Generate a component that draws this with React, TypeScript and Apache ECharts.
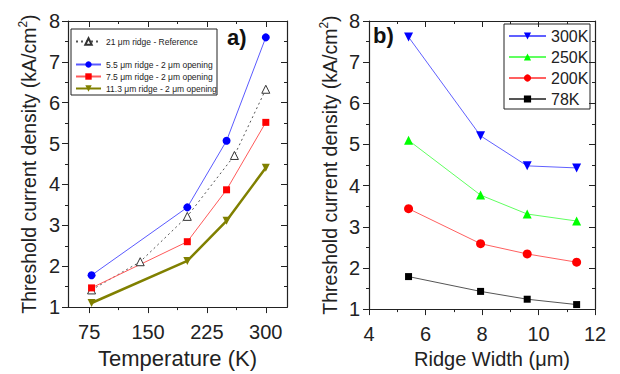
import React, { useEffect, useRef } from "react";
import * as echarts from "echarts";

// ---- Panel a) : threshold current density vs temperature ----
const refTemps = [78, 140, 200, 260, 300];
const refValues = [1.42, 2.11, 3.22, 4.71, 6.33];
const temps = [78, 200, 250, 300];
const ridge55 = [1.78, 3.44, 5.07, 7.6];
const ridge75 = [1.47, 2.6, 3.87, 5.52];
const ridge113 = [1.1, 2.13, 3.11, 4.41];
const tempMajorTicks = [75, 150, 225, 300];
const tempMinorTicks = [112.5, 187.5, 262.5];

// ---- Panel b) : threshold current density vs ridge width ----
const widths = [5.4, 7.95, 9.6, 11.35];
const j300 = [7.61, 5.21, 4.48, 4.43];
const j250 = [5.1, 3.77, 3.31, 3.14];
const j200 = [3.44, 2.59, 2.34, 2.14];
const j78 = [1.79, 1.43, 1.24, 1.11];

const leftNames = [
  "21 μm ridge - Reference",
  "5.5 μm ridge - 2 μm opening",
  "7.5 μm ridge - 2 μm opening",
  "11.3 μm ridge - 2 μm opening",
];
const rightNames = ["300K", "250K", "200K", "78K"];

const FONT = "Liberation Sans, Arial, sans-serif";
const AX = "#222";

const zip = (xs: number[], ys: number[]) => xs.map((x, i) => [x, ys[i]]);

const yName = "Threshold current density (kA/cm{sup|2})";

export default function App() {
  const ref = useRef<HTMLDivElement>(null);
  useEffect(() => {
    document.body.style.margin = "0";
    const chart = echarts.init(ref.current!, null, { renderer: "svg" });

    const tempBase = {
      type: "value",
      gridIndex: 0,
      min: 48,
      max: 327,
      splitLine: { show: false },
      axisLine: { show: true, lineStyle: { color: AX, width: 1.2 } },
    };
    const yBase = (grid: number, pos: string, labels: boolean, margin: number) => ({
      type: "value",
      gridIndex: grid,
      position: pos,
      min: 1,
      max: 8,
      interval: 1,
      splitLine: { show: false },
      axisLine: { show: true, lineStyle: { color: AX, width: 1.2 } },
      axisTick: { show: true, inside: !labels, length: 6, lineStyle: { color: AX } },
      minorTick: { show: true, splitNumber: 2, length: 3, lineStyle: { color: AX } },
      axisLabel: { show: labels, fontSize: 20, color: AX, margin, fontFamily: FONT },
      name: labels ? yName : "",
      nameLocation: "middle",
      nameGap: 28,
      nameTextStyle: {
        fontSize: 19.5,
        color: AX,
        fontFamily: FONT,
        lineHeight: 23,
        rich: { sup: { fontSize: 12, verticalAlign: "top", lineHeight: 23, fontFamily: FONT, color: AX } },
      },
    });

    const option: any = {
      animation: false,
      textStyle: { fontFamily: FONT },
      grid: [
        { left: 68, right: 333, top: 21, bottom: 64 },
        { left: 369, right: 25, top: 21, bottom: 64 },
      ],
      xAxis: [
        {
          ...tempBase,
          position: "bottom",
          axisTick: { show: true, customValues: tempMajorTicks, length: 6, lineStyle: { color: AX } },
          axisLabel: { show: true, customValues: tempMajorTicks, fontSize: 20, color: AX, margin: 15 },
          name: "Temperature (K)",
          nameLocation: "middle",
          nameGap: 36,
          nameTextStyle: { fontSize: 22, color: AX, fontFamily: FONT },
        },
        {
          ...tempBase,
          position: "bottom",
          axisTick: { show: true, customValues: tempMinorTicks, length: 3, lineStyle: { color: AX } },
          axisLabel: { show: false },
        },
        {
          ...tempBase,
          position: "top",
          axisTick: { show: true, inside: true, customValues: tempMajorTicks, length: 6, lineStyle: { color: AX } },
          axisLabel: { show: false },
        },
        {
          ...tempBase,
          position: "top",
          axisTick: { show: true, inside: true, customValues: tempMinorTicks, length: 3, lineStyle: { color: AX } },
          axisLabel: { show: false },
        },
        {
          type: "value",
          gridIndex: 1,
          position: "bottom",
          min: 4,
          max: 12,
          interval: 2,
          splitLine: { show: false },
          axisLine: { show: true, lineStyle: { color: AX, width: 1.2 } },
          axisTick: { show: true, length: 6, lineStyle: { color: AX } },
          minorTick: { show: true, splitNumber: 2, length: 3, lineStyle: { color: AX } },
          axisLabel: { show: true, fontSize: 20, color: AX, margin: 15 },
          name: "Ridge Width (μm)",
          nameLocation: "middle",
          nameGap: 37,
          nameTextStyle: { fontSize: 20, color: AX, fontFamily: FONT, padding: [0, 0, 0, 20] },
        },
        {
          type: "value",
          gridIndex: 1,
          position: "top",
          min: 4,
          max: 12,
          interval: 2,
          splitLine: { show: false },
          axisLine: { show: true, lineStyle: { color: AX, width: 1.2 } },
          axisTick: { show: true, inside: true, length: 6, lineStyle: { color: AX } },
          minorTick: { show: true, splitNumber: 2, length: 3, lineStyle: { color: AX } },
          axisLabel: { show: false },
        },
      ],
      yAxis: [yBase(0, "left", true, 8), yBase(0, "right", false, 8), yBase(1, "left", true, 9), yBase(1, "right", false, 8)],
      legend: [
        {
          data: [leftNames[0]],
          orient: "vertical",
          left: 75,
          top: 37,
          padding: 0,
          itemWidth: 25,
          itemHeight: 8,
          itemGap: 3,
          textStyle: { fontSize: 8.5, color: AX, fontFamily: FONT },
        },
        {
          data: leftNames.slice(1),
          orient: "vertical",
          left: 75,
          top: 60,
          padding: 0,
          itemWidth: 25,
          itemHeight: 8,
          itemGap: 3,
          textStyle: { fontSize: 8.5, color: AX, fontFamily: FONT },
        },
        {
          data: rightNames,
          orient: "vertical",
          left: 508,
          top: 28,
          padding: 0,
          itemWidth: 37,
          itemHeight: 9,
          itemGap: 5,
          textStyle: { fontSize: 16, color: AX, fontFamily: FONT },
        },
      ],
      graphic: [
        { type: "rect", shape: { x: 71, y: 29, width: 146, height: 66 }, style: { fill: "none", stroke: AX, lineWidth: 1 }, z: 10 },
        { type: "rect", shape: { x: 504, y: 24, width: 86, height: 85 }, style: { fill: "none", stroke: AX, lineWidth: 1 }, z: 10 },
        { type: "text", left: 227, top: 26, style: { text: "a)", fontSize: 22, fontWeight: "bold", fill: "#111", fontFamily: FONT } },
        { type: "text", left: 373, top: 24, style: { text: "b)", fontSize: 22, fontWeight: "bold", fill: "#111", fontFamily: FONT } },
      ],
      series: [
        {
          name: leftNames[0],
          type: "line",
          xAxisIndex: 0,
          yAxisIndex: 0,
          data: zip(refTemps, refValues),
          symbol: "triangle",
          symbolSize: 8,
          lineStyle: { color: "#555", width: 1, type: [2, 3] },
          itemStyle: { color: "#fff", borderColor: "#333", borderWidth: 1 },
          z: 3,
        },
        {
          name: leftNames[1],
          type: "line",
          xAxisIndex: 0,
          yAxisIndex: 0,
          data: zip(temps, ridge55),
          symbol: "circle",
          symbolSize: 8,
          lineStyle: { color: "#5a5aff", width: 1 },
          itemStyle: { color: "#0000ff" },
        },
        {
          name: leftNames[2],
          type: "line",
          xAxisIndex: 0,
          yAxisIndex: 0,
          data: zip(temps, ridge75),
          symbol: "rect",
          symbolSize: 7,
          lineStyle: { color: "#ff5a5a", width: 1 },
          itemStyle: { color: "#ff0000" },
        },
        {
          name: leftNames[3],
          type: "line",
          xAxisIndex: 0,
          yAxisIndex: 0,
          data: zip(temps, ridge113),
          symbol: "triangle",
          symbolRotate: 180,
          symbolSize: 8,
          lineStyle: { color: "#808000", width: 2.5 },
          itemStyle: { color: "#808000" },
        },
        {
          name: rightNames[0],
          type: "line",
          xAxisIndex: 4,
          yAxisIndex: 2,
          data: zip(widths, j300),
          symbol: "triangle",
          symbolRotate: 180,
          symbolSize: 9,
          lineStyle: { color: "#6060ff", width: 1 },
          itemStyle: { color: "#0000ff" },
        },
        {
          name: rightNames[1],
          type: "line",
          xAxisIndex: 4,
          yAxisIndex: 2,
          data: zip(widths, j250),
          symbol: "triangle",
          symbolSize: 9,
          lineStyle: { color: "#60ff60", width: 1 },
          itemStyle: { color: "#00ff00" },
        },
        {
          name: rightNames[2],
          type: "line",
          xAxisIndex: 4,
          yAxisIndex: 2,
          data: zip(widths, j200),
          symbol: "circle",
          symbolSize: 9,
          lineStyle: { color: "#ff6060", width: 1 },
          itemStyle: { color: "#ff0000" },
        },
        {
          name: rightNames[3],
          type: "line",
          xAxisIndex: 4,
          yAxisIndex: 2,
          data: zip(widths, j78),
          symbol: "rect",
          symbolSize: 7,
          lineStyle: { color: "#555", width: 1 },
          itemStyle: { color: "#000" },
        },
      ],
    };
    chart.setOption(option);
    return () => chart.dispose();
  }, []);
  return <div ref={ref} style={{ position: "absolute", left: 0, top: 0, width: 620, height: 374 }} />;
}
